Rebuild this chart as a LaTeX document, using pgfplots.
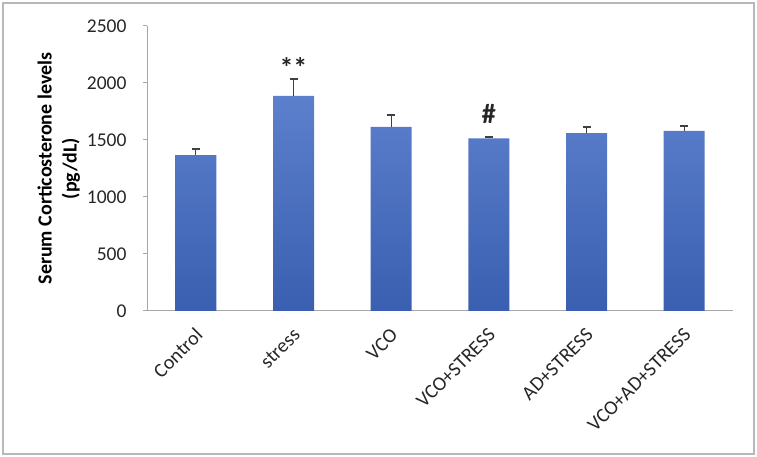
\documentclass[border=0pt]{standalone}
\usepackage{pgfplots}
\pgfplotsset{compat=1.18}
\usepackage{fontspec}
\setmainfont{Carlito}
\definecolor{bartop}{HTML}{5C80CC}
\definecolor{barbot}{HTML}{3A5FB0}
\definecolor{axgray}{HTML}{A6A6A6}
\definecolor{errgray}{HTML}{404040}
\definecolor{txtgray}{HTML}{262626}
\begin{document}
\begin{tikzpicture}[x=1pt,y=1pt]
\path[use as bounding box] (0,0) rectangle (757,457);
\draw[color=black!28, line width=2pt] (3,3) rectangle (754,454);
\begin{axis}[
  at={(147pt,146pt)}, anchor=south west,
  scale only axis, width=586pt, height=285pt,
  xmin=-0.5, xmax=5.5, ymin=0, ymax=2500,
  ytick={0,500,...,2500},
  xtick={0,...,5},
  xticklabels={Control,stress,VCO,VCO+STRESS,AD+STRESS,VCO+AD+STRESS},
  axis x line*=bottom, axis y line*=left,
  axis line style={axgray, line width=1pt, -},
  tick align=outside,
  ytick style={axgray, line width=1pt},
  major tick length=4pt,
  x tick style={draw=none},
  extra x ticks={-0.5,0.5,...,5.5},
  extra x tick labels={},
  extra x tick style={tick style={axgray, line width=1pt, draw=axgray}, major tick length=6pt},
  x tick label style={xshift=4pt, yshift=-16pt, rotate=45, anchor=east, font=\fontsize{20}{22}\selectfont, text=txtgray, inner sep=1pt},
  y tick label style={font=\fontsize{19.5}{22}\selectfont, text=txtgray, xshift=-13pt},
  /pgf/number format/assume math mode=true,
  /pgf/number format/1000 sep={},
  ylabel={Serum Corticosterone levels\\(pg/dL)},
  ylabel style={align=center, font=\fontsize{20}{25}\selectfont\bfseries, text=black},
  clip=false,
]
\addplot[ybar, bar width=41pt, draw=none, top color=bartop, bottom color=barbot,
  error bars/.cd, y dir=plus, y explicit,
  error bar style={errgray, line width=1.3pt},
  error mark options={errgray, rotate=90, mark size=4pt, line width=1.3pt}]
coordinates {
 (0,1368) +- (0,52)
 (1,1886) +- (0,149)
 (2,1614) +- (0,105)
 (3,1515) +- (0,10)
 (4,1561) +- (0,53)
 (5,1579) +- (0,45)
};
\node[font=\fontsize{28}{28}\selectfont\bfseries, text=txtgray] at (axis cs:1,2140) {**};
\node[font=\fontsize{28}{28}\selectfont\bfseries, text=txtgray] at (axis cs:3,1730) {\#};
\end{axis}
\end{tikzpicture}
\end{document}
